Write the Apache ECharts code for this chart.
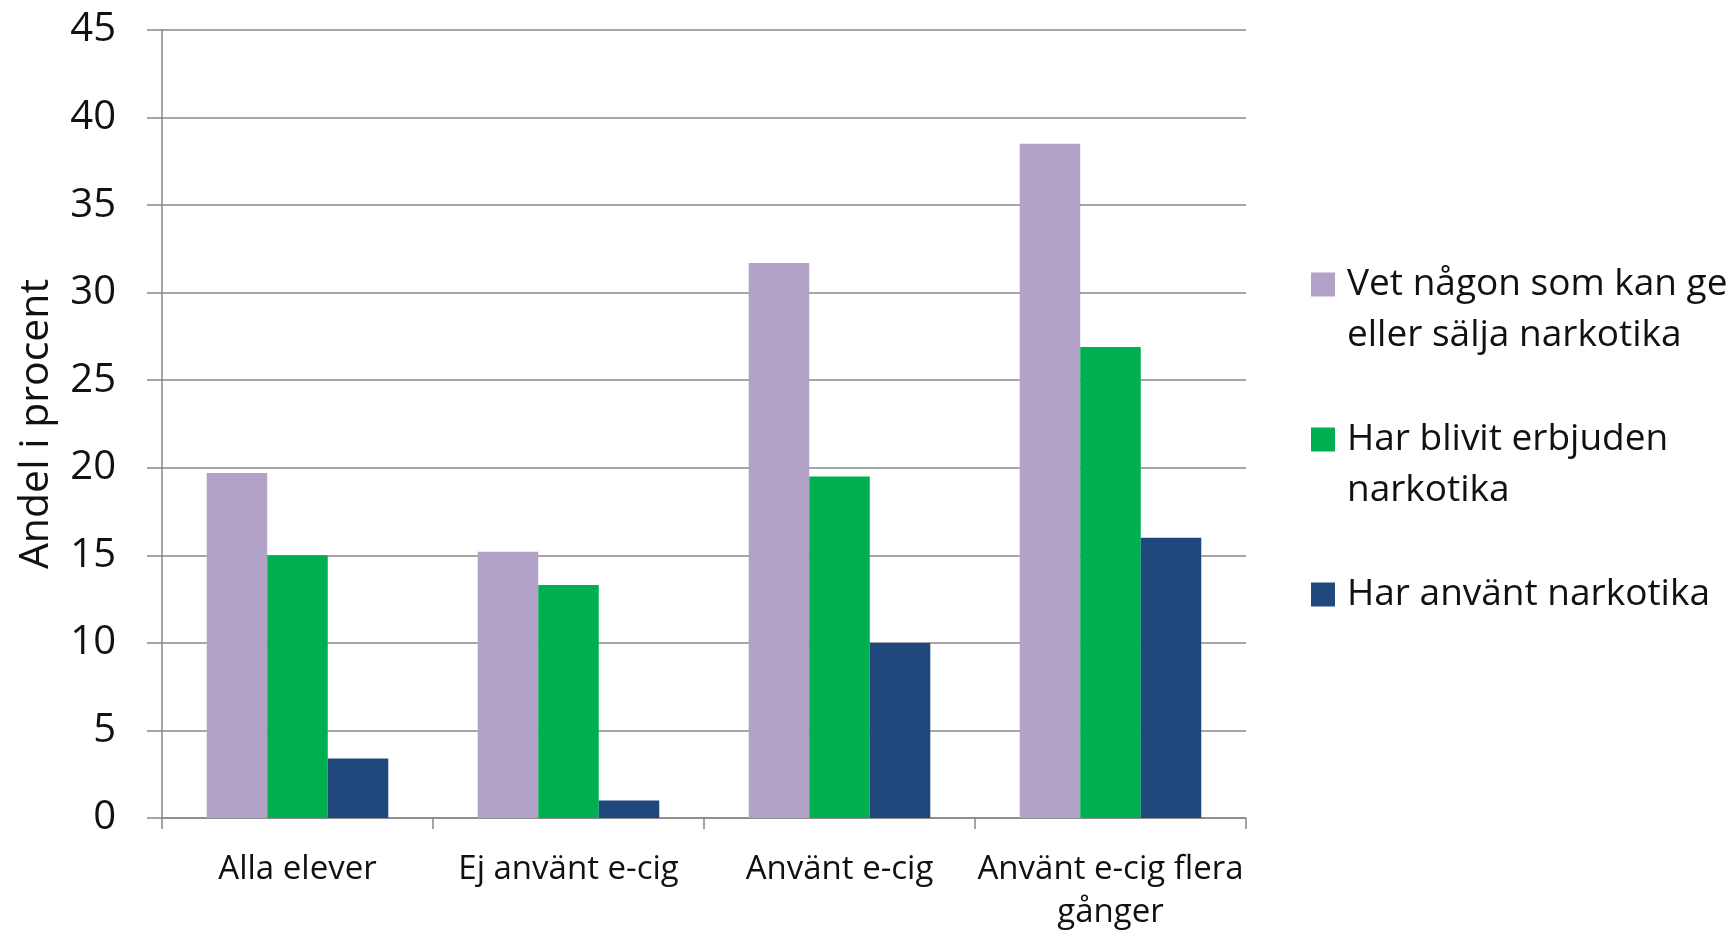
<!DOCTYPE html>
<html>
<head>
<meta charset="utf-8">
<script src="https://cdn.jsdelivr.net/npm/echarts@6/dist/echarts.min.js"></script>
<style>
html, body { margin: 0; padding: 0; background: #fff; }
#chart { width: 1728px; height: 930px; }
</style>
</head>
<body>
<div id="chart"></div>
<script>
const categories = ['Alla elever', 'Ej använt e-cig', 'Använt e-cig', 'Använt e-cig flera\ngånger'];
const seriesNames = ['Vet någon som kan ge\neller sälja narkotika', 'Har blivit erbjuden\nnarkotika', 'Har använt narkotika'];
const vetNagon = [19.7, 15.2, 31.7, 38.5];
const erbjuden = [15.0, 13.3, 19.5, 26.9];
const anvant = [3.4, 1.0, 10.0, 16.0];
const yTicks = { min: 0, max: 45, interval: 5 };
const axisName = 'Andel i procent';

const colors = ['#B3A2C7', '#00B050', '#1F497D'];
const FONT = '"Open Sans", "Liberation Sans", sans-serif';
const LH = 51;

const chart = echarts.init(document.getElementById('chart'), null, { renderer: 'canvas' });

const option = {
  animation: false,
  color: colors,
  textStyle: { fontFamily: FONT },
  grid: { left: 162, right: 482, top: 30, bottom: 112, containLabel: false, outerBoundsMode: 'none' },
  legend: {
    orient: 'vertical',
    left: 1311,
    top: 208,
    padding: 0,
    itemWidth: 24,
    itemHeight: 24,
    itemGap: 2,
    selectedMode: false,
    icon: 'rect',
    data: seriesNames,
    formatter: function (name) {
      // pad so that the marker sits beside the first line of each entry
      return name.indexOf('\n') >= 0 ? '\n' + name : '\n' + name + '\n';
    },
    textStyle: { fontFamily: FONT, fontSize: 37, fontWeight: 400, color: '#111', lineHeight: LH, padding: [0, 0, 0, 7] }
  },
  xAxis: {
    type: 'category',
    data: categories,
    axisLine: { lineStyle: { color: '#888', width: 1.5 } },
    axisTick: { show: true, length: 11, lineStyle: { color: '#888', width: 1.5 } },
    axisLabel: { fontFamily: FONT, fontSize: 33, fontWeight: 400, color: '#111', margin: 30, lineHeight: 43, interval: 0 }
  },
  yAxis: {
    type: 'value',
    min: yTicks.min,
    max: yTicks.max,
    interval: yTicks.interval,
    name: axisName,
    nameLocation: 'middle',
    nameGap: 105,
    nameRotate: 90,
    nameMoveOverlap: false,
    nameTextStyle: { fontFamily: FONT, fontSize: 41, fontWeight: 400, color: '#111' },
    axisLine: { show: true, lineStyle: { color: '#888', width: 1.5 } },
    axisTick: { show: true, length: 15, lineStyle: { color: '#888', width: 1.5 } },
    axisLabel: { fontFamily: FONT, fontSize: 40, fontWeight: 400, color: '#111', margin: 46 },
    splitLine: { show: true, lineStyle: { color: '#888', width: 1.5 } }
  },
  series: [
    { name: seriesNames[0], type: 'bar', data: vetNagon, barGap: '0%', barCategoryGap: '33%' },
    { name: seriesNames[1], type: 'bar', data: erbjuden, barGap: '0%', barCategoryGap: '33%' },
    { name: seriesNames[2], type: 'bar', data: anvant, barGap: '0%', barCategoryGap: '33%' }
  ]
};
chart.setOption(option);
</script>
</body>
</html>
